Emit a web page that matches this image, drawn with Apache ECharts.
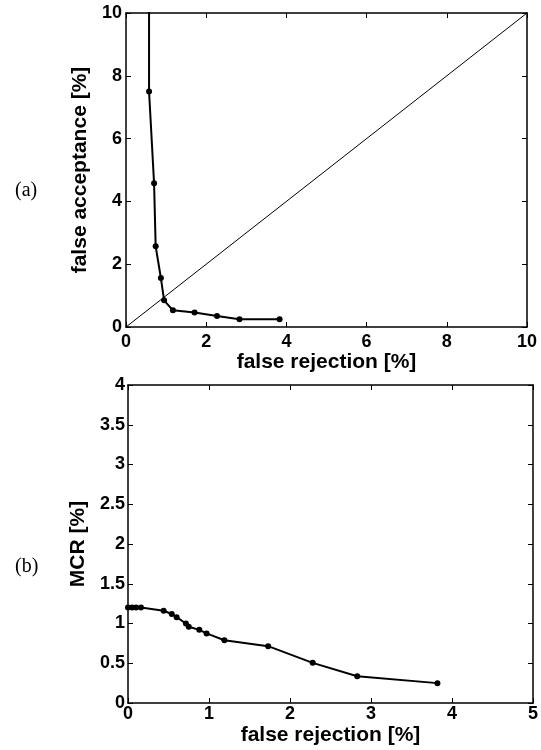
<!DOCTYPE html>
<html>
<head>
<meta charset="utf-8">
<script src="https://cdn.jsdelivr.net/npm/echarts@6/dist/echarts.min.js"></script>
<style>
  html, body { margin: 0; padding: 0; background: #fff; }
  #chart { width: 541px; height: 750px; }
</style>
</head>
<body>
<div id="chart"></div>
<script>
// (a) false rejection vs false acceptance
const rocRejection = [0.575, 0.575, 0.70, 0.74, 0.87, 0.95, 1.17, 1.71, 2.27, 2.83, 3.83];
const rocAcceptance = [12, 7.5, 4.58, 2.57, 1.56, 0.85, 0.53, 0.46, 0.35, 0.25, 0.25];
const diagonal = [[0, 0], [10, 10]];

// (b) false rejection vs MCR
const mcrRejection = [0, 0.05, 0.10, 0.16, 0.44, 0.54, 0.60, 0.715, 0.75, 0.88, 0.97, 1.19, 1.73, 2.28, 2.83, 3.82];
const mcrValues = [1.2, 1.2, 1.2, 1.2, 1.16, 1.12, 1.08, 1.0, 0.96, 0.92, 0.875, 0.79, 0.715, 0.505, 0.337, 0.25];

const FONT = 'Arial';
const black = '#000';

const chart = echarts.init(document.getElementById('chart'));

/** main axis with labels */
function mainAxis(grid, pos, min, max, interval, name, nameGap, margin) {
  return {
    type: 'value', gridIndex: grid, position: pos,
    min, max, interval,
    name, nameLocation: 'middle', nameGap,
    nameTextStyle: { fontFamily: FONT, fontWeight: 'bold', fontSize: 21, color: black },
    axisLine: { show: true, onZero: false, lineStyle: { color: black, width: 1.5 } },
    axisTick: { show: true, inside: true, length: 5, lineStyle: { color: black } },
    axisLabel: { fontFamily: FONT, fontWeight: 'bold', fontSize: 18, color: black, margin },
    splitLine: { show: false }
  };
}

/** mirror axis (box edge with ticks, no labels) */
function boxAxis(grid, pos, min, max, interval) {
  return {
    type: 'value', gridIndex: grid, position: pos,
    min, max, interval,
    axisLine: { show: true, onZero: false, lineStyle: { color: black, width: 1.5 } },
    axisTick: { show: true, inside: true, length: 5, lineStyle: { color: black } },
    axisLabel: { show: false },
    splitLine: { show: false }
  };
}

const option = {
  backgroundColor: '#fff',
  animation: false,
  title: [
    { text: '(a)', left: 10, top: 176, textStyle: { fontFamily: 'Liberation Serif, serif', fontWeight: 'normal', fontSize: 20, color: black } },
    { text: '(b)', left: 10, top: 552, textStyle: { fontFamily: 'Liberation Serif, serif', fontWeight: 'normal', fontSize: 20, color: black } }
  ],
  grid: [
    { left: 126, top: 13, width: 401, height: 314 },
    { left: 128, top: 385, width: 406, height: 318 }
  ],
  xAxis: [
    mainAxis(0, 'bottom', 0, 10, 2, 'false rejection [%]', 23, 6),
    boxAxis(0, 'top', 0, 10, 2),
    mainAxis(1, 'bottom', 0, 5, 1, 'false rejection [%]', 22, 2),
    boxAxis(1, 'top', 0, 5, 1)
  ],
  yAxis: [
    mainAxis(0, 'left', 0, 10, 2, 'false acceptance [%]', 28, 4),
    boxAxis(0, 'right', 0, 10, 2),
    mainAxis(1, 'left', 0, 4, 0.5, 'MCR [%]', 31, 3),
    boxAxis(1, 'right', 0, 4, 0.5)
  ],
  series: [
    {
      type: 'line', xAxisIndex: 0, yAxisIndex: 0,
      data: diagonal, symbol: 'none',
      lineStyle: { color: black, width: 1 }
    },
    {
      type: 'line', xAxisIndex: 0, yAxisIndex: 0,
      data: rocRejection.map((x, i) => (rocAcceptance[i] > 10
        ? { value: [x, rocAcceptance[i]], symbol: 'none' }
        : [x, rocAcceptance[i]])),
      symbol: 'circle', symbolSize: 6, clip: true,
      itemStyle: { color: black },
      lineStyle: { color: black, width: 2 }
    },
    {
      type: 'line', xAxisIndex: 2, yAxisIndex: 2,
      data: mcrRejection.map((x, i) => [x, mcrValues[i]]),
      symbol: 'circle', symbolSize: 6, clip: false,
      itemStyle: { color: black },
      lineStyle: { color: black, width: 2 }
    }
  ]
};

chart.setOption(option);
</script>
</body>
</html>
